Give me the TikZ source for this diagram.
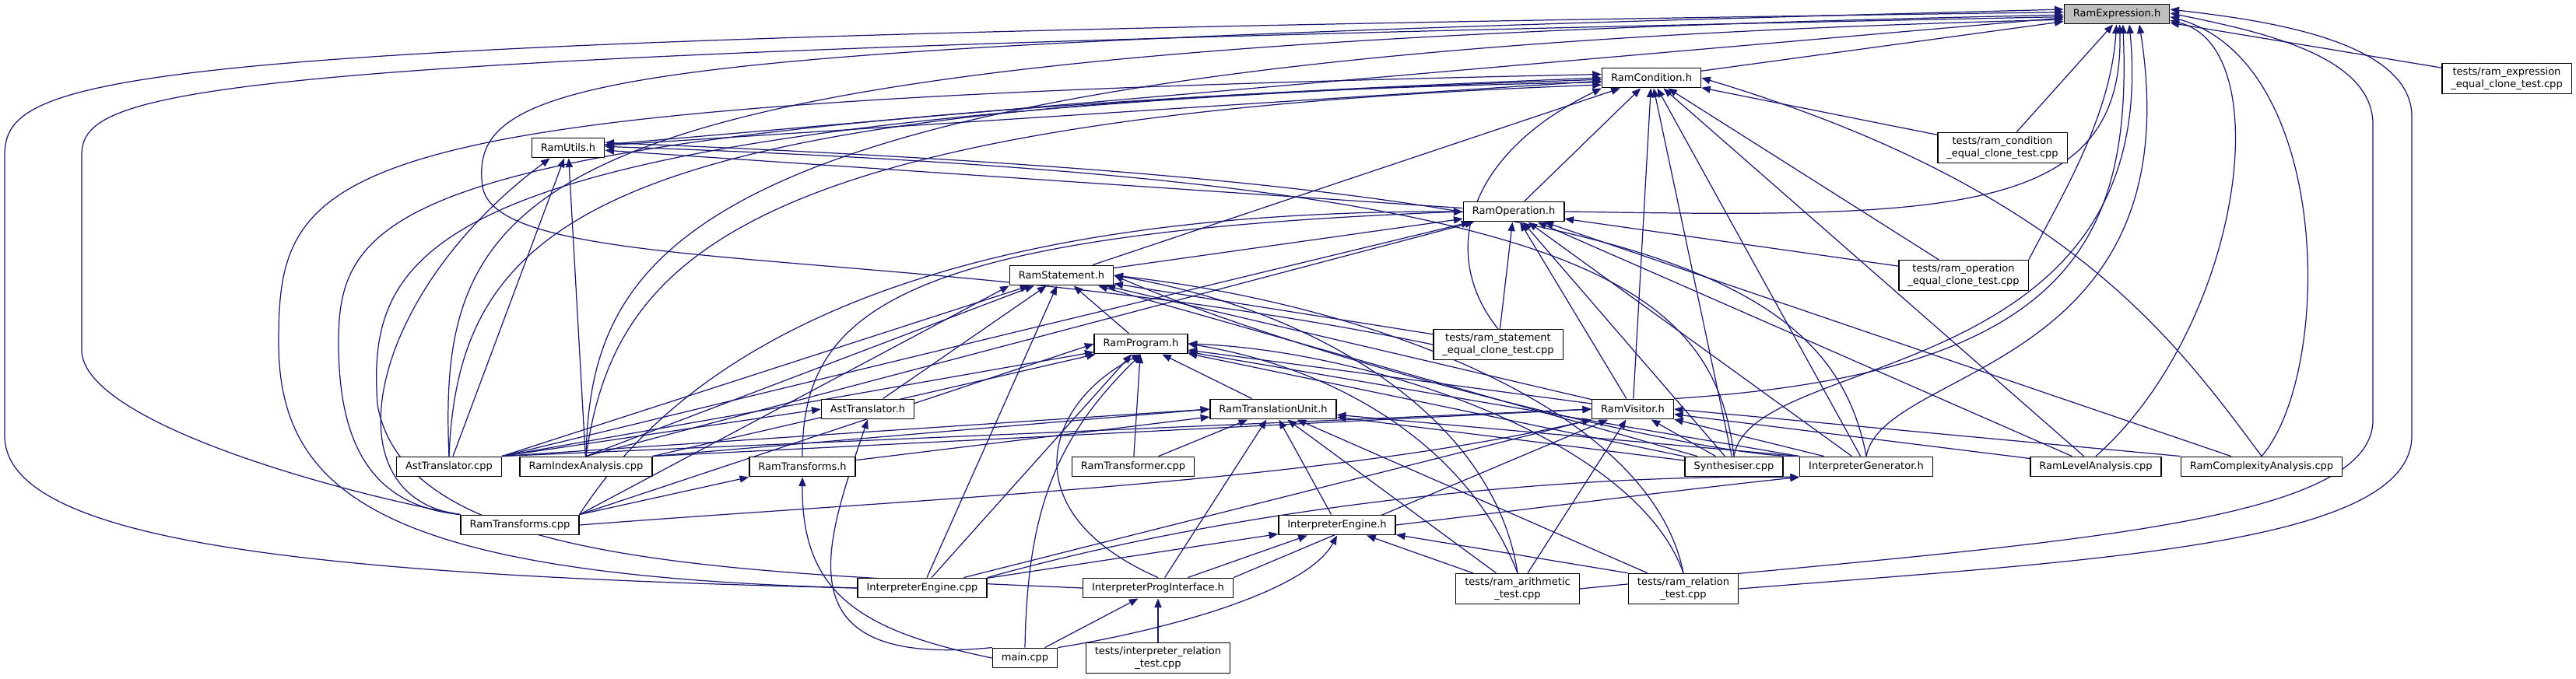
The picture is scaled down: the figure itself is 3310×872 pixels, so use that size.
\documentclass[tikz,border=0pt]{standalone}
\usepackage{fontspec}
\setmainfont{DejaVu Sans}
\usetikzlibrary{arrows.meta}
\definecolor{edgeblue}{HTML}{191970}
\pgfdeclarelayer{edges}
\pgfsetlayers{edges,main}
\begin{document}
\begin{tikzpicture}[x=0.01cm, y=-0.01cm, line join=round, line cap=round, >={Stealth[inset=0pt,length=3.3pt,width=2.6pt]},
    file/.style={draw, fill=white, line width=0.4pt, inner xsep=0.115cm, inner ysep=0.05cm, minimum height=0.255cm, align=center, font=\fontsize{3.7}{4.6}\selectfont},
    cur/.style={file, fill=black!25},
    inc/.style={->, draw=edgeblue, line width=0.35pt}]
    \useasboundingbox (0,0) rectangle (3310,872);
    % files, one row after the other
    \node[cur]  (expr)   at (2720,18)  {RamExpression.h};
    \node[file] (texpr)  at (3221,101) {tests/ram\_expression\\\_equal\_clone\_test.cpp};
    \node[file] (cond)   at (2122,100) {RamCondition.h};
    \node[file] (tcond)  at (2573,190) {tests/ram\_condition\\\_equal\_clone\_test.cpp};
    \node[file] (utils)  at (730,190)  {RamUtils.h};
    \node[file] (oper)   at (1945,272) {RamOperation.h};
    \node[file] (stmt)   at (1364,354) {RamStatement.h};
    \node[file] (toper)  at (2523,354) {tests/ram\_operation\\\_equal\_clone\_test.cpp};
    \node[file] (prog)   at (1466,442) {RamProgram.h};
    \node[file] (tstmt)  at (1925,443) {tests/ram\_statement\\\_equal\_clone\_test.cpp};
    \node[file] (asth)   at (1115,526) {AstTranslator.h};
    \node[file] (tu)     at (1636,526) {RamTranslationUnit.h};
    \node[file] (vis)    at (2098,526) {RamVisitor.h};
    \node[file] (astc)   at (577,600)  {AstTranslator.cpp};
    \node[file] (idx)    at (753,600)  {RamIndexAnalysis.cpp};
    \node[file] (trh)    at (1031,600) {RamTransforms.h};
    \node[file] (tfc)    at (1456,600) {RamTransformer.cpp};
    \node[file] (syn)    at (2228,600) {Synthesiser.cpp};
    \node[file] (igen)   at (2398,600) {InterpreterGenerator.h};
    \node[file] (lvl)    at (2693,600) {RamLevelAnalysis.cpp};
    \node[file] (cplx)   at (2906,600) {RamComplexityAnalysis.cpp};
    \node[file] (trc)    at (668,675)  {RamTransforms.cpp};
    \node[file] (ieh)    at (1718,675) {InterpreterEngine.h};
    \node[file] (iec)    at (1185,756) {InterpreterEngine.cpp};
    \node[file] (ipi)    at (1488,756) {InterpreterProgInterface.h};
    \node[file] (tarith) at (1950,757) {tests/ram\_arithmetic\\\_test.cpp};
    \node[file] (trel)   at (2163,757) {tests/ram\_relation\\\_test.cpp};
    \node[file] (mainc)  at (1317,846) {main.cpp};
    \node[file] (tirel)  at (1488,846) {tests/interpreter\_relation\\\_test.cpp};
    % bends of the long loops
    \coordinate (la1) at (6,560);    \coordinate (la2) at (6,200);
    \coordinate (lb1) at (105,450);  \coordinate (lb2) at (105,200);
    \coordinate (lc1) at (358,440);  \coordinate (ld1) at (435,440);
    \coordinate (lf1) at (485,520);  \coordinate (w1) at (620,240);
    \coordinate (ra1) at (3049,540); \coordinate (ra2) at (3049,160);
    \coordinate (rb1) at (3099,560); \coordinate (rb2) at (3099,150);
    \begin{pgfonlayer}{edges}
    % headers
    \draw[inc] (cond) -- (expr.188);
    \draw[inc] (texpr) -- (expr);
    \draw[inc] (utils) -- (expr.184); \draw[inc] (utils) -- (cond);
    \draw[inc] (tcond) -- (expr.250); \draw[inc] (tcond) -- (cond);
    \draw[inc] (oper.east) .. controls (2500,280) and (2730,280) .. (expr.285);
    \draw[inc] (oper) -- (cond); \draw[inc] (oper) -- (utils);
    \draw[inc] (stmt) -- (cond); \draw[inc] (stmt) -- (oper);
    \draw[inc] (toper.north east) .. controls (2650,250) and (2712,150) .. (expr.268);
    \draw[inc] (toper) -- (cond); \draw[inc] (toper) -- (oper);
    \draw[inc] (prog) -- (stmt);
    \draw[inc] (tstmt.west) .. controls (1200,310) and (640,360) .. (w1) .. controls (600,90) and (800,60) .. (expr.175);
    \draw[inc] (tstmt.north) .. controls (1850,330) and (1880,200) .. (cond.south west);
    \draw[inc] (tstmt) -- (oper); \draw[inc] (tstmt) -- (stmt);
    \draw[inc] (asth) -- (stmt);
    \draw[inc] (tu) -- (prog);
    \draw[inc] (vis.north east) .. controls (2650,480) and (2740,320) .. (expr.300);
    \draw[inc] (vis) -- (cond); \draw[inc] (vis) -- (oper); \draw[inc] (vis) -- (stmt); \draw[inc] (vis) -- (prog);
    % sources
    \draw[inc] (astc.north east) -- (asth.west);
    \draw[inc] (astc.north) .. controls (560,200) and (700,60) .. (expr.181);
    \draw[inc] (astc.north) .. controls (590,260) and (800,130) .. (cond.185);
    \draw[inc] (astc) -- (utils);
    \draw[inc] (astc.north east) -- (oper); \draw[inc] (astc.north east) -- (stmt); \draw[inc] (astc.north east) -- (prog);
    \draw[inc] (astc.north east) -- (tu.west); \draw[inc] (astc.north east) -- (vis.west);
    \draw[inc] (idx.north) .. controls (760,300) and (900,70) .. (expr.186);
    \draw[inc] (idx.north) .. controls (790,330) and (950,150) .. (cond.188);
    \draw[inc] (idx) -- (utils);
    \draw[inc] (idx.north) -- (oper); \draw[inc] (idx.north) -- (stmt); \draw[inc] (idx.north east) -- (prog);
    \draw[inc] (idx.north east) -- (tu.west); \draw[inc] (idx.north east) -- (vis.west);
    \draw[inc] (trh.north) .. controls (1031,400) and (1150,300) .. (oper.west);
    \draw[inc] (trh) -- (tu);
    \draw[inc] (tfc) -- (prog); \draw[inc] (tfc) -- (tu);
    \draw[inc] (syn.north) .. controls (2250,450) and (2780,500) .. (expr.320);
    \draw[inc] (syn.north) .. controls (2200,350) and (2000,230) .. (utils.2);
    \draw[inc] (syn) -- (cond); \draw[inc] (syn) -- (oper); \draw[inc] (syn) -- (stmt);
    \draw[inc] (syn) -- (prog); \draw[inc] (syn) -- (tu); \draw[inc] (syn) -- (vis);
    \draw[inc] (igen.north) .. controls (2420,470) and (2820,480) .. (expr.335);
    \draw[inc] (igen.north) .. controls (2350,330) and (2050,235) .. (utils.8);
    \draw[inc] (igen.north west) .. controls (2200,590) and (1700,470) .. (stmt.east);
    \draw[inc] (igen) -- (cond); \draw[inc] (igen) -- (oper);
    \draw[inc] (igen.north west) -- (prog); \draw[inc] (igen.north west) -- (tu); \draw[inc] (igen) -- (vis);
    \draw[inc] (lvl.north) .. controls (2880,420) and (2930,60) .. (expr.-7);
    \draw[inc] (lvl) -- (cond); \draw[inc] (lvl) -- (oper); \draw[inc] (lvl) -- (vis);
    \draw[inc] (cplx.north) .. controls (2998,480) and (2998,80) .. (expr.-3);
    \draw[inc] (cplx.north) .. controls (2790,430) and (2650,240) .. (cond.east);
    \draw[inc] (cplx) -- (oper); \draw[inc] (cplx.north west) -- (vis.east);
    % lower rows
    \draw[inc] (trc.north east) -- (trh.south west);
    \draw[inc] (trc.north west) .. controls (420,630) and (105,540) .. (lb1) -- (lb2) .. controls (105,110) and (250,70) .. (expr.183);
    \draw[inc] (trc.north west) .. controls (470,650) and (435,560) .. (ld1) .. controls (435,260) and (520,160) .. (cond.west);
    \draw[inc] (trc.north west) .. controls (420,640) and (470,380) .. (utils.210);
    \draw[inc] (trc.north east) .. controls (850,500) and (1100,270) .. (oper.west);
    \draw[inc] (trc.north east) -- (stmt.south west); \draw[inc] (trc.north east) -- (prog.west);
    \draw[inc] (trc.east) .. controls (1200,640) and (1700,620) .. (vis.south west);
    \draw[inc] (ieh) -- (tu);
    \draw[inc] (ieh.east) .. controls (2000,650) and (2200,625) .. (igen.south west);
    \draw[inc] (iec) -- (ieh);
    \draw[inc] (iec.west) .. controls (420,740) and (6,700) .. (la1) -- (la2) .. controls (6,90) and (150,50) .. (expr.178);
    \draw[inc] (iec.west) .. controls (500,740) and (358,640) .. (lc1) .. controls (358,200) and (420,130) .. (cond.176);
    \draw[inc] (iec) -- (prog); \draw[inc] (iec) -- (stmt); \draw[inc] (iec) -- (vis);
    \draw[inc] (iec.north east) .. controls (1600,650) and (2000,610) .. (igen.south west);
    \draw[inc] (ipi) -- (ieh); \draw[inc] (ipi) -- (tu); \draw[inc] (ipi.north east) -- (vis);
    \draw[inc] (ipi.north) .. controls (1300,660) and (1340,520) .. (prog.south);
    \draw[inc] (ipi.west) .. controls (900,735) and (520,720) .. (lf1) .. controls (470,300) and (560,150) .. (cond.182);
    \draw[inc] (tarith) -- (ieh); \draw[inc] (tarith) -- (tu); \draw[inc] (tarith) -- (vis);
    \draw[inc] (tarith.north) .. controls (1880,560) and (1700,470) .. (prog.east);
    \draw[inc] (tarith.north) .. controls (1920,540) and (1700,400) .. (stmt.east);
    \draw[inc] (tarith.east) .. controls (2600,700) and (3049,680) .. (ra1) -- (ra2) .. controls (3049,70) and (2900,40) .. (expr.1);
    \draw[inc] (trel.north west) -- (ieh); \draw[inc] (trel) -- (tu);
    \draw[inc] (trel.north) .. controls (2100,560) and (1750,450) .. (prog.east);
    \draw[inc] (trel.north) .. controls (2120,520) and (1750,390) .. (stmt.east);
    \draw[inc] (trel.east) .. controls (2700,720) and (3099,700) .. (rb1) -- (rb2) .. controls (3099,50) and (2900,25) .. (expr.5);
    \draw[inc] (mainc.north west) .. controls (1000,860) and (1060,700) .. (asth.south);
    \draw[inc] (mainc.west) .. controls (1100,810) and (1030,760) .. (trh.south);
    \draw[inc] (mainc.north) .. controls (1320,650) and (1360,560) .. (prog.south);
    \draw[inc] (mainc.north east) .. controls (1500,810) and (1680,760) .. (ieh.south);
    \draw[inc] (mainc) -- (ipi);
    \draw[inc] (tirel) -- (ipi);
    \end{pgfonlayer}
\end{tikzpicture}
\end{document}
